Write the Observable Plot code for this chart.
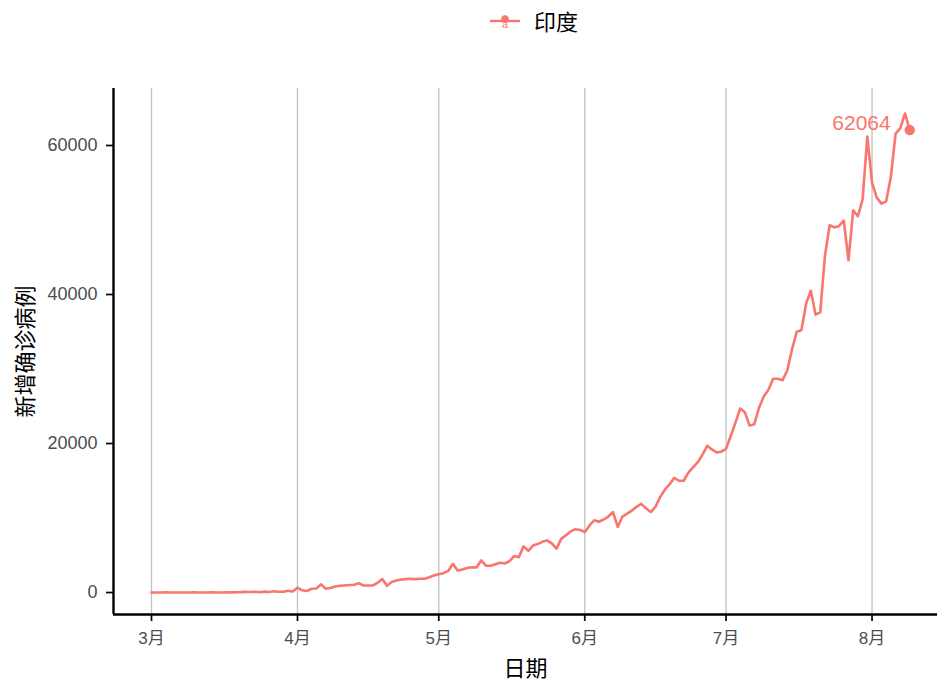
<!DOCTYPE html>
<html>
<head>
<meta charset="utf-8">
<script src="https://cdn.jsdelivr.net/npm/d3@7"></script>
<script src="https://cdn.jsdelivr.net/npm/@observablehq/plot@0.6"></script>
<style>
  html, body { margin: 0; padding: 0; background: #ffffff; }
  body { width: 937px; height: 689px; overflow: hidden; font-family: "Liberation Sans", Arial, "Noto Sans CJK SC", sans-serif; }
  #legend { position: relative; height: 60px; }
  #legend svg { position: absolute; left: 488px; top: 6px; }
  #legend span { position: absolute; left: 534px; top: 5px; font-size: 22px; color: #000; font-family: "Noto Sans CJK SC", sans-serif; line-height: 30px; }
</style>
</head>
<body>
<div id="legend"></div>
<div id="chart"></div>
<script>
// ---- data ----
const seriesName = "印度";
const seriesColor = "#F8766D";
const startDate = [2020, 2, 1]; // 2020-03-01, one value per day
const newCases = [
  // March
  0, 2, 1, 22, 2, 1, 3, 5, 4, 13, 6, 11, 9, 20, 11, 6, 23, 14, 38, 50,
  86, 66, 103, 37, 121, 70, 160, 100, 106, 227, 146,
  // April
  650, 300, 200, 500, 550, 1100, 500, 600, 800, 900,
  950, 1000, 1050, 1250, 950, 950, 950, 1300, 1800, 900,
  1400, 1600, 1750, 1800, 1850, 1800, 1850, 1850, 2050, 2300,
  // May
  2450, 2600, 2900, 3850, 2950, 3100, 3300, 3400, 3350, 4300,
  3600, 3600, 3800, 4000, 3900, 4200, 4900, 4750, 6200, 5600,
  6300, 6500, 6800, 7000, 6600, 5900, 7200, 7700, 8200, 8500, 8400,
  // June
  8100, 9000, 9700, 9500, 9800, 10200, 10800, 8800, 10200, 10600,
  11000, 11500, 11900, 11300, 10800, 11500, 12800, 13800, 14500, 15400,
  15000, 15000, 16100, 16800, 17500, 18500, 19700, 19200, 18800, 18900,
  // July
  19300, 21000, 22800, 24700, 24200, 22400, 22600, 24800, 26300, 27200,
  28700, 28700, 28500, 29800, 32600, 35000, 35200, 38800, 40500, 37300,
  37600, 45200, 49300, 49000, 49200, 49900, 44600, 51300, 50500, 52800, 61200,
  // August
  55000, 53000, 52200, 52500, 55800, 61600, 62300, 64300, 62064
];
const monthTicks = ["2020-03-01", "2020-04-01", "2020-05-01", "2020-06-01", "2020-07-01", "2020-08-01"];
const monthLabels = ["3月", "4月", "5月", "6月", "7月", "8月"];
const yTicks = [0, 20000, 40000, 60000];
const xTitle = "日期";
const yTitle = "新增确诊病例";

// ---- build table ----
const DAY = 86400000;
const t0 = Date.UTC(startDate[0], startDate[1], startDate[2]);
const data = newCases.map((v, i) => ({date: new Date(t0 + i * DAY), value: v}));
const last = data[data.length - 1];
const monthDates = monthTicks.map(s => new Date(s + "T00:00:00Z"));

const xDomain = [new Date(t0 - 8.07 * DAY), new Date(t0 + 166.9 * DAY)];
const yDomain = [-2950, 67650];

// ---- legend ----
const legend = document.getElementById("legend");
legend.innerHTML =
  `<svg width="34" height="30">
     <line x1="2" x2="32" y1="15" y2="15" stroke="${seriesColor}" stroke-width="2.4"/>
     <circle cx="17" cy="13" r="3.8" fill="${seriesColor}"/>
     <text x="17" y="22" text-anchor="middle" font-size="11" font-family="Liberation Sans, Arial" fill="${seriesColor}">a</text>
   </svg><span>${seriesName}</span>`;

// ---- plot ----
const fontMain = "'Liberation Sans', Arial, 'Noto Sans CJK SC', sans-serif";
const chart = Plot.plot({
  width: 937,
  height: 629,
  marginLeft: 113,
  marginRight: 0,
  marginTop: 28,
  marginBottom: 75,
  style: {background: "#ffffff", fontFamily: fontMain, overflow: "visible"},
  x: {type: "utc", domain: xDomain},
  y: {domain: yDomain},
  marks: [
    Plot.ruleX(monthDates, {stroke: "#c2c2c2", strokeWidth: 1.3}),
    Plot.line(data, {x: "date", y: "value", stroke: seriesColor, strokeWidth: 2.6, strokeLinejoin: "round"}),
    Plot.dot([last], {x: "date", y: "value", r: 4.5, fill: seriesColor, stroke: seriesColor}),
    Plot.text([last], {x: "date", y: "value", text: d => String(d.value), textAnchor: "end", dx: -19, dy: -7,
      fill: seriesColor, fontSize: 21, fontFamily: "'Liberation Sans', Arial, sans-serif"}),
    // axis lines
    Plot.ruleY([yDomain[0]], {stroke: "#000", strokeWidth: 2.4}),
    Plot.ruleX([xDomain[0]], {stroke: "#000", strokeWidth: 2.4}),
    // x ticks + labels
    Plot.axisX({ticks: monthDates, tickSize: 7, tickFormat: () => "", color: "#000", strokeWidth: 1.7, label: null}),
    Plot.axisX({ticks: monthDates, tickSize: 0, tickPadding: 17, tickFormat: (d, i) => monthLabels[i],
      color: "#4d4d4d", fontSize: 17, label: null}),
    // y ticks + labels
    Plot.axisY({ticks: yTicks, tickSize: 7, tickFormat: () => "", color: "#000", strokeWidth: 1.7, label: null}),
    Plot.axisY({ticks: yTicks, tickSize: 0, tickPadding: 16, tickFormat: d => String(d),
      color: "#4d4d4d", fontSize: 18, label: null}),
    // titles
    Plot.text([xTitle], {frameAnchor: "bottom", dy: 54, text: d => d, fontSize: 22, fill: "#000",
      fontFamily: "'Noto Sans CJK SC', sans-serif", textAnchor: "middle", lineAnchor: "middle"}),
    Plot.text([yTitle], {frameAnchor: "left", dx: -88, text: d => d, rotate: -90, fontSize: 22, fill: "#000",
      fontFamily: "'Noto Sans CJK SC', sans-serif", textAnchor: "middle", lineAnchor: "middle"})
  ]
});
document.getElementById("chart").appendChild(chart);
</script>
</body>
</html>
